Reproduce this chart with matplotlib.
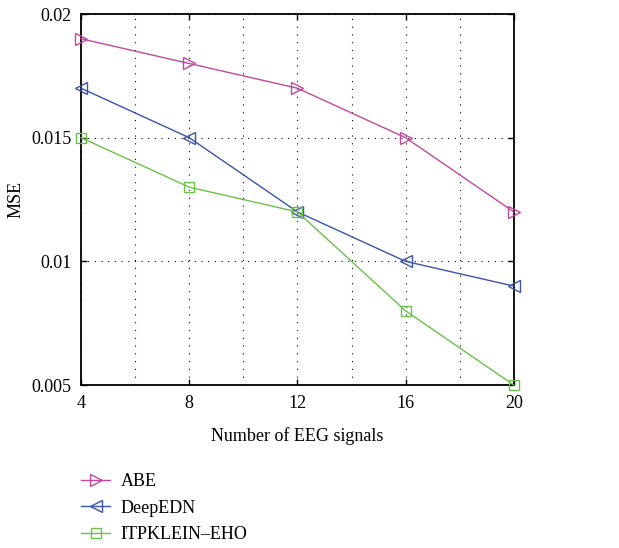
import matplotlib
matplotlib.use("Agg")
import matplotlib.pyplot as plt

# Daten
eeg_signale = [4, 8, 12, 16, 20]
mse_abe = [0.019, 0.018, 0.017, 0.015, 0.012]
mse_deepedn = [0.017, 0.015, 0.012, 0.010, 0.009]
mse_itpklein = [0.015, 0.013, 0.012, 0.008, 0.005]

plt.rcParams["font.family"] = ["Liberation Serif", "DejaVu Serif"]

fig = plt.figure(figsize=(6.19, 5.48), dpi=100)
ax = fig.add_axes([0.131, 0.2974, 0.699, 0.677])

ax.plot(eeg_signale, mse_abe, color="#c0489f", lw=1.0, marker=">", ms=8.5,
        mfc="none", mew=1.0, label="ABE", clip_on=False, zorder=4)
ax.plot(eeg_signale, mse_deepedn, color="#3a55a8", lw=1.0, marker="<", ms=8.5,
        mfc="none", mew=1.0, label="DeepEDN", clip_on=False, zorder=4)
ax.plot(eeg_signale, mse_itpklein, color="#6cc04a", lw=1.0, marker="s", ms=7,
        mfc="none", mew=1.0, label="ITPKLEIN\u2013EHO", clip_on=False, zorder=4)

ax.set_xlim(4, 20)
ax.set_ylim(0.005, 0.02)
ax.set_xticks([4, 8, 12, 16, 20])
ax.set_xticks([6, 10, 14, 18], minor=True)
ax.set_yticks([0.005, 0.01, 0.015, 0.02])
ax.set_yticklabels(["0.005", "0.01", "0.015", "0.02"])

ax.grid(True, which="both", axis="x", color="black", lw=0.8, ls=(0, (1, 6)))
ax.grid(True, which="major", axis="y", color="black", lw=0.8, ls=(0, (1, 5)))
ax.tick_params(which="both", direction="in", top=True, right=True, labelsize=13,
               length=4, width=1)
ax.tick_params(axis="x", pad=7)
ax.tick_params(axis="y", pad=7)
ax.tick_params(which="minor", length=0)
for s in ax.spines.values():
    s.set_linewidth(1.3)

ax.set_xlabel("Number of EEG signals", fontsize=13, labelpad=11)
ax.set_ylabel("MSE", fontsize=13)
ax.yaxis.set_label_coords(-0.13, 0.5)

fig.legend(loc="upper left", bbox_to_anchor=(0.131, 0.137), frameon=False,
           fontsize=13, handlelength=1.6, handletextpad=0.6, labelspacing=0.54,
           borderaxespad=0, borderpad=0)

fig.savefig("out.png", dpi=100)
